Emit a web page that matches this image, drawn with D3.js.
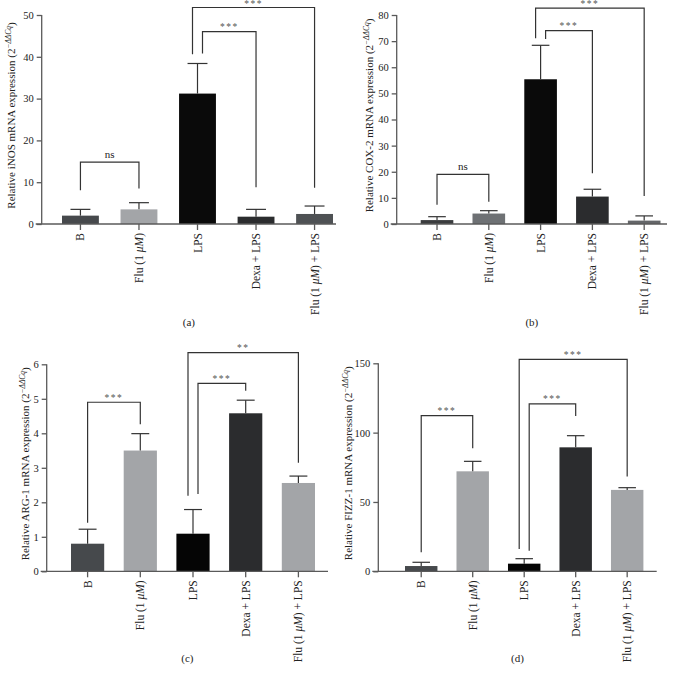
<!DOCTYPE html>
<html>
<head>
<meta charset="utf-8">
<script src="https://cdn.jsdelivr.net/npm/d3@7"></script>
<style>
  html, body { margin: 0; padding: 0; background: #fff; }
  svg { display: block; font-family: "Liberation Serif", "DejaVu Serif", serif; }
</style>
</head>
<body>
<svg id="chart" width="673" height="678"></svg>
<script>
// categories shared by all four panels
const groups = ["B", "Flu (1 μM)", "LPS", "Dexa + LPS", "Flu (1 μM) + LPS"];

// means and SD (upper whisker)
const inosMean = [2.0, 3.5, 31.2, 1.75, 2.4];
const inosSd   = [1.5, 1.6, 7.2, 1.75, 1.9];
const cox2Mean = [1.5, 4.0, 55.4, 10.5, 1.3];
const cox2Sd   = [1.3, 1.1, 13.0, 2.8, 1.8];
const arg1Mean = [0.80, 3.50, 1.09, 4.58, 2.56];
const arg1Sd   = [0.42, 0.49, 0.70, 0.38, 0.20];
const fizzMean = [3.8, 72.1, 5.5, 89.4, 58.7];
const fizzSd   = [2.7, 7.2, 3.6, 8.4, 1.6];

// y ticks
const inosTicks = [0, 10, 20, 30, 40, 50];
const cox2Ticks = [0, 10, 20, 30, 40, 50, 60, 70, 80];
const arg1Ticks = [0, 1, 2, 3, 4, 5, 6];
const fizzTicks = [0, 50, 100, 150];

// significance brackets: from, to, height, label, left leg end, right leg end, left leg side
const inosSig = [[0, 1, 14.8, "ns", 8.1, 8.5, 0], [2, 3, 46.0, "***", 40.8, 8.8, 1], [2, 4, 51.8, "***", 40.6, 8.7, -1]];
const cox2Sig = [[0, 1, 19.0, "ns", 7.4, 8.5, 0], [2, 3, 74.0, "***", 70.8, 19.4, 1], [2, 4, 82.6, "***", 71.1, 10.7, -1]];
const arg1Sig = [[0, 1, 4.90, "***", 1.41, 4.26, 0], [2, 3, 5.45, "***", 2.24, 5.23, 1], [2, 4, 6.34, "**", 2.19, 3.15, -1]];
const fizzSig = [[0, 1, 112.3, "***", 13.7, 88.7, 0], [2, 3, 120.7, "***", 14.9, 112.0, 1], [2, 4, 152.9, "***", 16.1, 68.3, -1]];

const panels = [
  { gene: "iNOS", tag: "(a)", mean: inosMean, sd: inosSd, ticks: inosTicks, sig: inosSig, max: 50,
    ax: 41.7, axEnd: 336, barL: 62, barR: 333, top: 15, bottom: 224, labX: 11, tagY: 326,
    colors: ["#46494c", "#a3a5a8", "#0a0a0a", "#2b2c2e", "#4e5154"] },
  { gene: "COX-2", tag: "(b)", mean: cox2Mean, sd: cox2Sd, ticks: cox2Ticks, sig: cox2Sig, max: 80,
    ax: 396.7, axEnd: 667, barL: 420.7, barR: 660.5, top: 15, bottom: 224, labX: 369, tagY: 326,
    colors: ["#3a3c3e", "#6e7174", "#0a0a0a", "#2b2c2e", "#646669"] },
  { gene: "ARG-1", tag: "(c)", mean: arg1Mean, sd: arg1Sd, ticks: arg1Ticks, sig: arg1Sig, max: 6,
    ax: 46.7, axEnd: 328, barL: 71, barR: 315, top: 364.3, bottom: 571.3, labX: 25, tagY: 662,
    colors: ["#46494c", "#a3a5a8", "#050505", "#2b2c2e", "#a3a5a8"] },
  { gene: "FIZZ-1", tag: "(d)", mean: fizzMean, sd: fizzSd, ticks: fizzTicks, sig: fizzSig, max: 150,
    ax: 378.3, axEnd: 656.7, barL: 405, barR: 643.4, top: 363.3, bottom: 571.3, labX: 348.5, tagY: 662,
    colors: ["#46494c", "#a3a5a8", "#050505", "#2b2c2e", "#a3a5a8"] }
];

const svg = d3.select("#chart");
const axisColor = "#5a5a5a";

// text with italic "μM"
function groupLabel(sel, name) {
  const parts = name.split("μM");
  sel.append("tspan").text(parts[0]);
  if (parts.length > 1) {
    sel.append("tspan").attr("font-style", "italic").text("μM");
    sel.append("tspan").text(parts[1]);
  }
}

panels.forEach(p => {
  const g = svg.append("g");

  const x = d3.scaleBand()
    .domain(groups)
    .range([p.barL, p.barR])
    .paddingInner(0.37)
    .paddingOuter(0);

  const y = d3.scaleLinear()
    .domain([0, p.max])
    .range([p.bottom, p.top]);

  const cx = i => x(groups[i]) + x.bandwidth() / 2;

  // bars
  g.selectAll(".bar")
    .data(p.mean)
    .enter().append("rect")
    .attr("x", (d, i) => x(groups[i]))
    .attr("width", x.bandwidth())
    .attr("y", d => y(d))
    .attr("height", d => y(0) - y(d))
    .attr("fill", (d, i) => p.colors[i]);

  // error bars (upper whisker only)
  const cap = x.bandwidth() * 0.27;
  p.mean.forEach((m, i) => {
    const top = y(m + p.sd[i]);
    g.append("line")
      .attr("x1", cx(i)).attr("x2", cx(i))
      .attr("y1", y(m)).attr("y2", top)
      .attr("stroke", "#333").attr("stroke-width", 1.2);
    g.append("line")
      .attr("x1", cx(i) - cap).attr("x2", cx(i) + cap)
      .attr("y1", top).attr("y2", top)
      .attr("stroke", "#333").attr("stroke-width", 1.2);
  });

  // y axis
  const yAxis = g.append("g")
    .attr("transform", `translate(${p.ax},0)`)
    .call(d3.axisLeft(y).tickValues(p.ticks).tickFormat(d3.format("d")).tickSize(5).tickPadding(3));
  yAxis.select(".domain").attr("stroke", axisColor).attr("stroke-width", 1.3)
    .attr("d", `M0,${p.top}V${p.bottom}`);
  yAxis.selectAll(".tick line").attr("stroke", axisColor).attr("stroke-width", 1.3);
  yAxis.selectAll(".tick text")
    .attr("fill", "#222")
    .style("font-family", "Liberation Serif, serif")
    .style("font-size", "10.5px");

  // x axis
  g.append("line")
    .attr("x1", p.ax - 6).attr("x2", p.axEnd)
    .attr("y1", p.bottom).attr("y2", p.bottom)
    .attr("stroke", axisColor).attr("stroke-width", 1.3);
  groups.forEach((name, i) => {
    g.append("line")
      .attr("x1", cx(i)).attr("x2", cx(i))
      .attr("y1", p.bottom).attr("y2", p.bottom + 6)
      .attr("stroke", axisColor).attr("stroke-width", 1.3);
    const t = g.append("text")
      .attr("transform", `translate(${cx(i)},${p.bottom + 9}) rotate(-90)`)
      .attr("text-anchor", "end")
      .attr("dy", "0.35em")
      .attr("fill", "#222")
      .style("font-size", "11.5px");
    groupLabel(t, name);
  });

  // y axis title
  const yt = g.append("text")
    .attr("transform", `translate(${p.labX},${(p.top + p.bottom) / 2 - 4}) rotate(-90)`)
    .attr("text-anchor", "middle")
    .attr("dy", "0.35em")
    .attr("fill", "#222")
    .style("font-size", "11px");
  yt.append("tspan").text(`Relative ${p.gene} mRNA expression (2`);
  yt.append("tspan").attr("baseline-shift", "super").style("font-size", "7.5px")
    .attr("font-style", "italic").text("−ΔΔCq");
  yt.append("tspan").text(")");

  // significance brackets
  p.sig.forEach(([a, b, h, label, endA, endB, side]) => {
    const xa = cx(a) + side * 5;
    const xb = cx(b);
    const yh = y(h);
    g.append("path")
      .attr("d", `M${xa},${y(endA)}V${yh}H${xb}V${y(endB)}`)
      .attr("fill", "none")
      .attr("stroke", "#333")
      .attr("stroke-width", 1.2);
    const isNs = label === "ns";
    g.append("text")
      .attr("x", (xa + xb) / 2)
      .attr("y", isNs ? yh - 4 : Math.max(yh - 1.5, 7))
      .attr("text-anchor", "middle")
      .attr("fill", isNs ? "#222" : "#555")
      .style("font-size", isNs ? "11px" : "9.5px")
      .style("letter-spacing", isNs ? "0px" : "1.5px")
      .text(label);
  });

  // panel tag
  g.append("text")
    .attr("x", (p.ax + p.axEnd) / 2)
    .attr("y", p.tagY)
    .attr("text-anchor", "middle")
    .attr("fill", "#222")
    .style("font-size", "11px")
    .text(p.tag);
});
</script>
</body>
</html>
